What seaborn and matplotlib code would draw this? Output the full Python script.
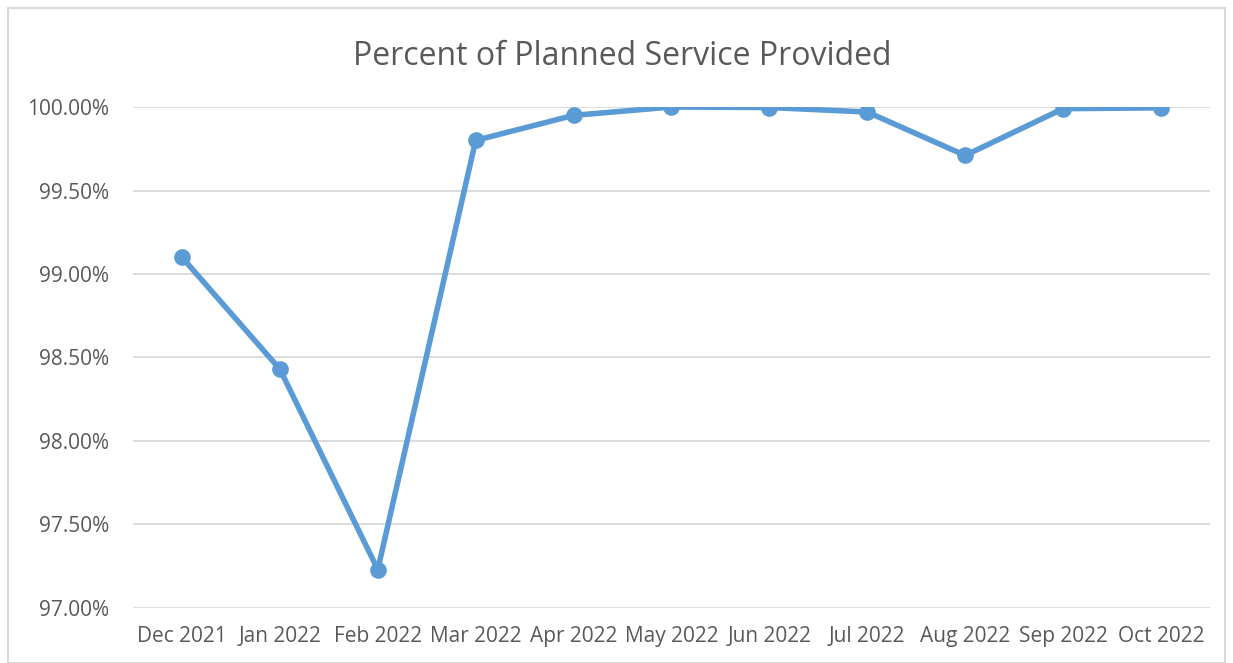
import matplotlib
matplotlib.use("Agg")
import matplotlib.pyplot as plt
import seaborn as sns
import pandas as pd
from matplotlib.patches import Rectangle
from matplotlib.ticker import FuncFormatter

months = ["Dec 2021", "Jan 2022", "Feb 2022", "Mar 2022", "Apr 2022", "May 2022",
          "Jun 2022", "Jul 2022", "Aug 2022", "Sep 2022", "Oct 2022"]
pct = [99.10, 98.43, 97.23, 99.80, 99.95, 100.00, 99.997, 99.97, 99.71, 99.99, 99.995]
yticks = [97.0, 97.5, 98.0, 98.5, 99.0, 99.5, 100.0]

sns.set_theme(style="white")
plt.rcParams['font.family'] = ['Open Sans', 'DejaVu Sans']

df = pd.DataFrame({"month": months, "pct": pct})

fig = plt.figure(figsize=(12.33, 6.63), dpi=100)
ax = fig.add_axes([0.1079, 0.083, 0.8734, 0.7556])

for t in yticks:
    ax.axhline(t, color="#D9D9D9", lw=1.3, zorder=0)

sns.lineplot(data=df, x="month", y="pct", ax=ax, color="#5B9BD5", lw=4,
             marker="o", markersize=12, markeredgewidth=0, sort=False)

ax.set_xlim(-0.5, len(months) - 0.5)
ax.set_ylim(97.0, 100.0)
ax.set_yticks(yticks)
ax.yaxis.set_major_formatter(FuncFormatter(lambda v, p: f"{v:.2f}%"))
ax.set_xlabel("")
ax.set_ylabel("")
for s in ax.spines.values():
    s.set_visible(False)
ax.tick_params(axis="both", length=0, labelsize=15, colors="#595959")
ax.tick_params(axis="y", pad=17)
ax.tick_params(axis="x", pad=13)

fig.text(0.505, 0.915, "Percent of Planned Service Provided", ha="center", va="center",
         fontsize=23, color="#595959")

fig.patches.append(Rectangle((8/1233, 0), 1217/1233, 1 - 8/663, transform=fig.transFigure,
                             fill=False, edgecolor="#D9D9D9", lw=1.5))

fig.savefig("out.png", dpi=100)
